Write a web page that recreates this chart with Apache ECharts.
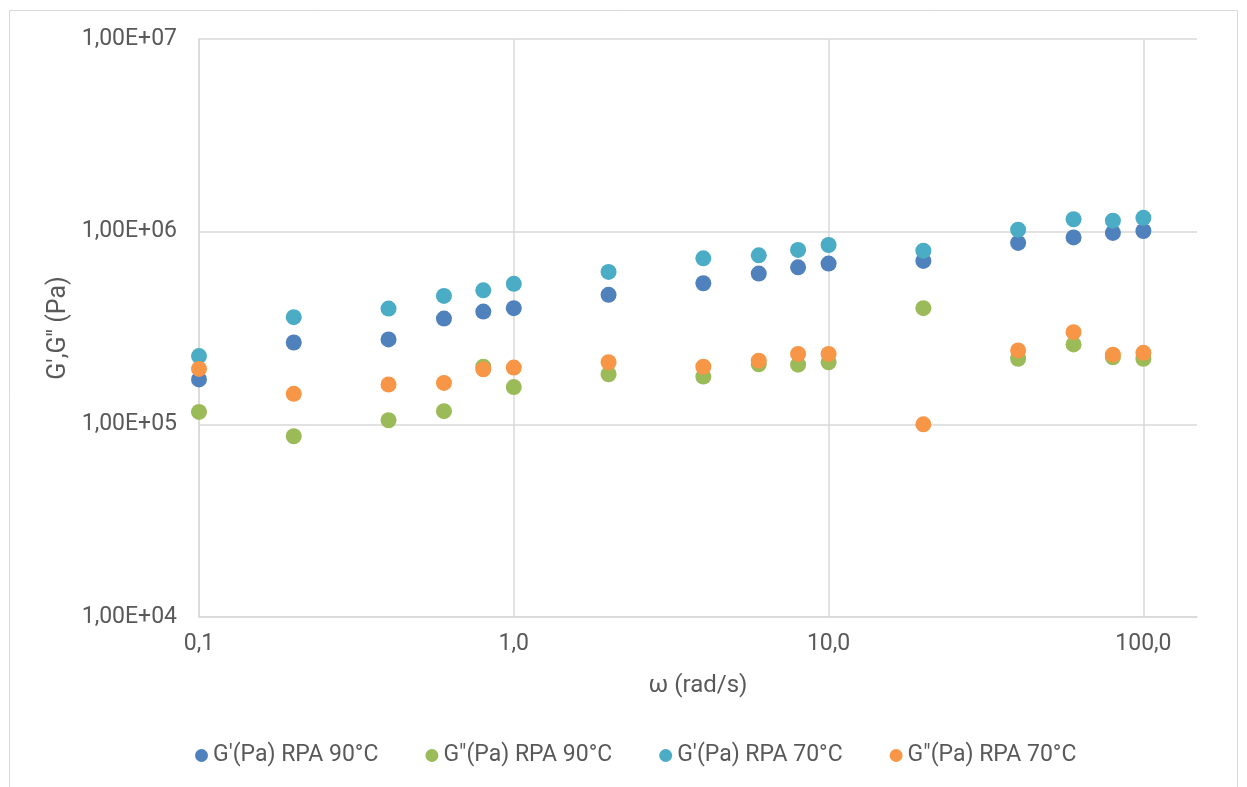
<!DOCTYPE html>
<html>
<head>
<meta charset="utf-8">
<script src="https://cdn.jsdelivr.net/npm/echarts@6/dist/echarts.min.js"></script>
<style>
	html, body { margin: 0; padding: 0; background: #fff; }
	#chart { width: 1247px; height: 787px; }
</style>
</head>
<body>
<div id="chart"></div>
<script>
// frequency (rad/s)
var omega = [ 0.1, 0.2, 0.4, 0.6, 0.8, 1, 2, 4, 6, 8, 10, 20, 40, 60, 80, 100 ];

// moduli (Pa)
var gp90 = [ 171000, 266000, 276000, 354000, 385000, 401000, 470000, 540000, 606000, 653000, 683000, 705000, 874000, 934000, 985000, 1008000 ];
var gpp90 = [ 116000, 86700, 105000, 117000, 199000, 156000, 182000, 177000, 205000, 204000, 210000, 401000, 219000, 260000, 223000, 219000 ];
var gp70 = [ 226000, 360000, 399000, 464000, 496000, 536000, 618000, 727000, 754000, 804000, 853000, 797000, 1024000, 1160000, 1140000, 1180000 ];
var gpp70 = [ 194000, 144000, 161000, 164000, 193000, 197000, 210000, 199000, 214000, 232000, 232000, 100000, 242000, 301000, 230000, 235000 ];

var seriesNames = [ "G'(Pa) RPA 90°C", 'G"(Pa) RPA 90°C', "G'(Pa) RPA 70°C", 'G"(Pa) RPA 70°C' ];
var seriesColors = [ '#4F81BD', '#9BBB59', '#4BACC6', '#F79646' ];

var textColor = '#595959';
var gridColor = '#d9d9d9';
var fontFamily = 'Roboto, "Noto Sans", sans-serif';

function pairs(ys) {
	return omega.map(function(x, i) {
		return [ x, ys[i] ];
	});
}

var chart = echarts.init(document.getElementById('chart'));

var allValues = [ gp90, gpp90, gp70, gpp70 ];
var series = allValues.map(function(vals, i) {
	return {
		name : seriesNames[i],
		type : 'scatter',
		symbol : 'circle',
		symbolSize : 16,
		itemStyle : {
			color : seriesColors[i],
			opacity : 1
		},
		data : pairs(vals)
	};
});

var option = {
	animation : false,
	backgroundColor : '#fff',
	textStyle : {
		fontFamily : fontFamily
	},
	graphic : [ {
		type : 'rect',
		shape : { x : 9.5, y : 10.5, width : 1228, height : 800 },
		style : { fill : 'none', stroke : gridColor, lineWidth : 1 },
		silent : true
	} ],
	grid : {
		left : 199,
		top : 39,
		width : 998,
		height : 578,
		containLabel : false
	},
	legend : {
		left : 190,
		top : 739,
		itemGap : 47,
		itemWidth : 13,
		itemHeight : 13,
		icon : 'circle',
		data : seriesNames,
		textStyle : {
			color : textColor,
			fontSize : 23,
			fontFamily : fontFamily
		}
	},
	xAxis : {
		type : 'log',
		logBase : 10,
		min : 0.1,
		max : 148,
		name : 'ω (rad/s)',
		nameLocation : 'middle',
		nameGap : 57,
		nameTextStyle : {
			color : textColor,
			fontSize : 24,
			fontFamily : fontFamily
		},
		axisLine : {
			lineStyle : { color : gridColor, width : 1.5 }
		},
		axisTick : { show : false },
		axisLabel : {
			color : textColor,
			fontSize : 23,
			margin : 16,
			showMaxLabel : false,
			formatter : function(v) {
				var e = Math.log10(v);
				if (Math.abs(e - Math.round(e)) > 1e-6)
					return '';
				return v.toFixed(1).replace('.', ',');
			}
		},
		splitLine : {
			show : true,
			showMaxLine : false,
			lineStyle : { color : gridColor, width : 1.5 }
		}
	},
	yAxis : {
		type : 'log',
		logBase : 10,
		min : 1e4,
		max : 1e7,
		name : 'G\',G\'\' (Pa)',
		nameLocation : 'middle',
		nameGap : 122,
		nameTextStyle : {
			color : textColor,
			fontSize : 25,
			fontFamily : fontFamily
		},
		axisLine : {
			show : true,
			lineStyle : { color : gridColor, width : 1.5 }
		},
		axisTick : { show : false },
		axisLabel : {
			color : textColor,
			fontSize : 23,
			margin : 22,
			formatter : function(v) {
				var e = Math.round(Math.log10(v));
				return '1,00E+' + (e < 10 ? '0' : '') + e;
			}
		},
		splitLine : {
			show : true,
			lineStyle : { color : gridColor, width : 1.5 }
		}
	},
	series : series
};

chart.setOption(option);
</script>
</body>
</html>
